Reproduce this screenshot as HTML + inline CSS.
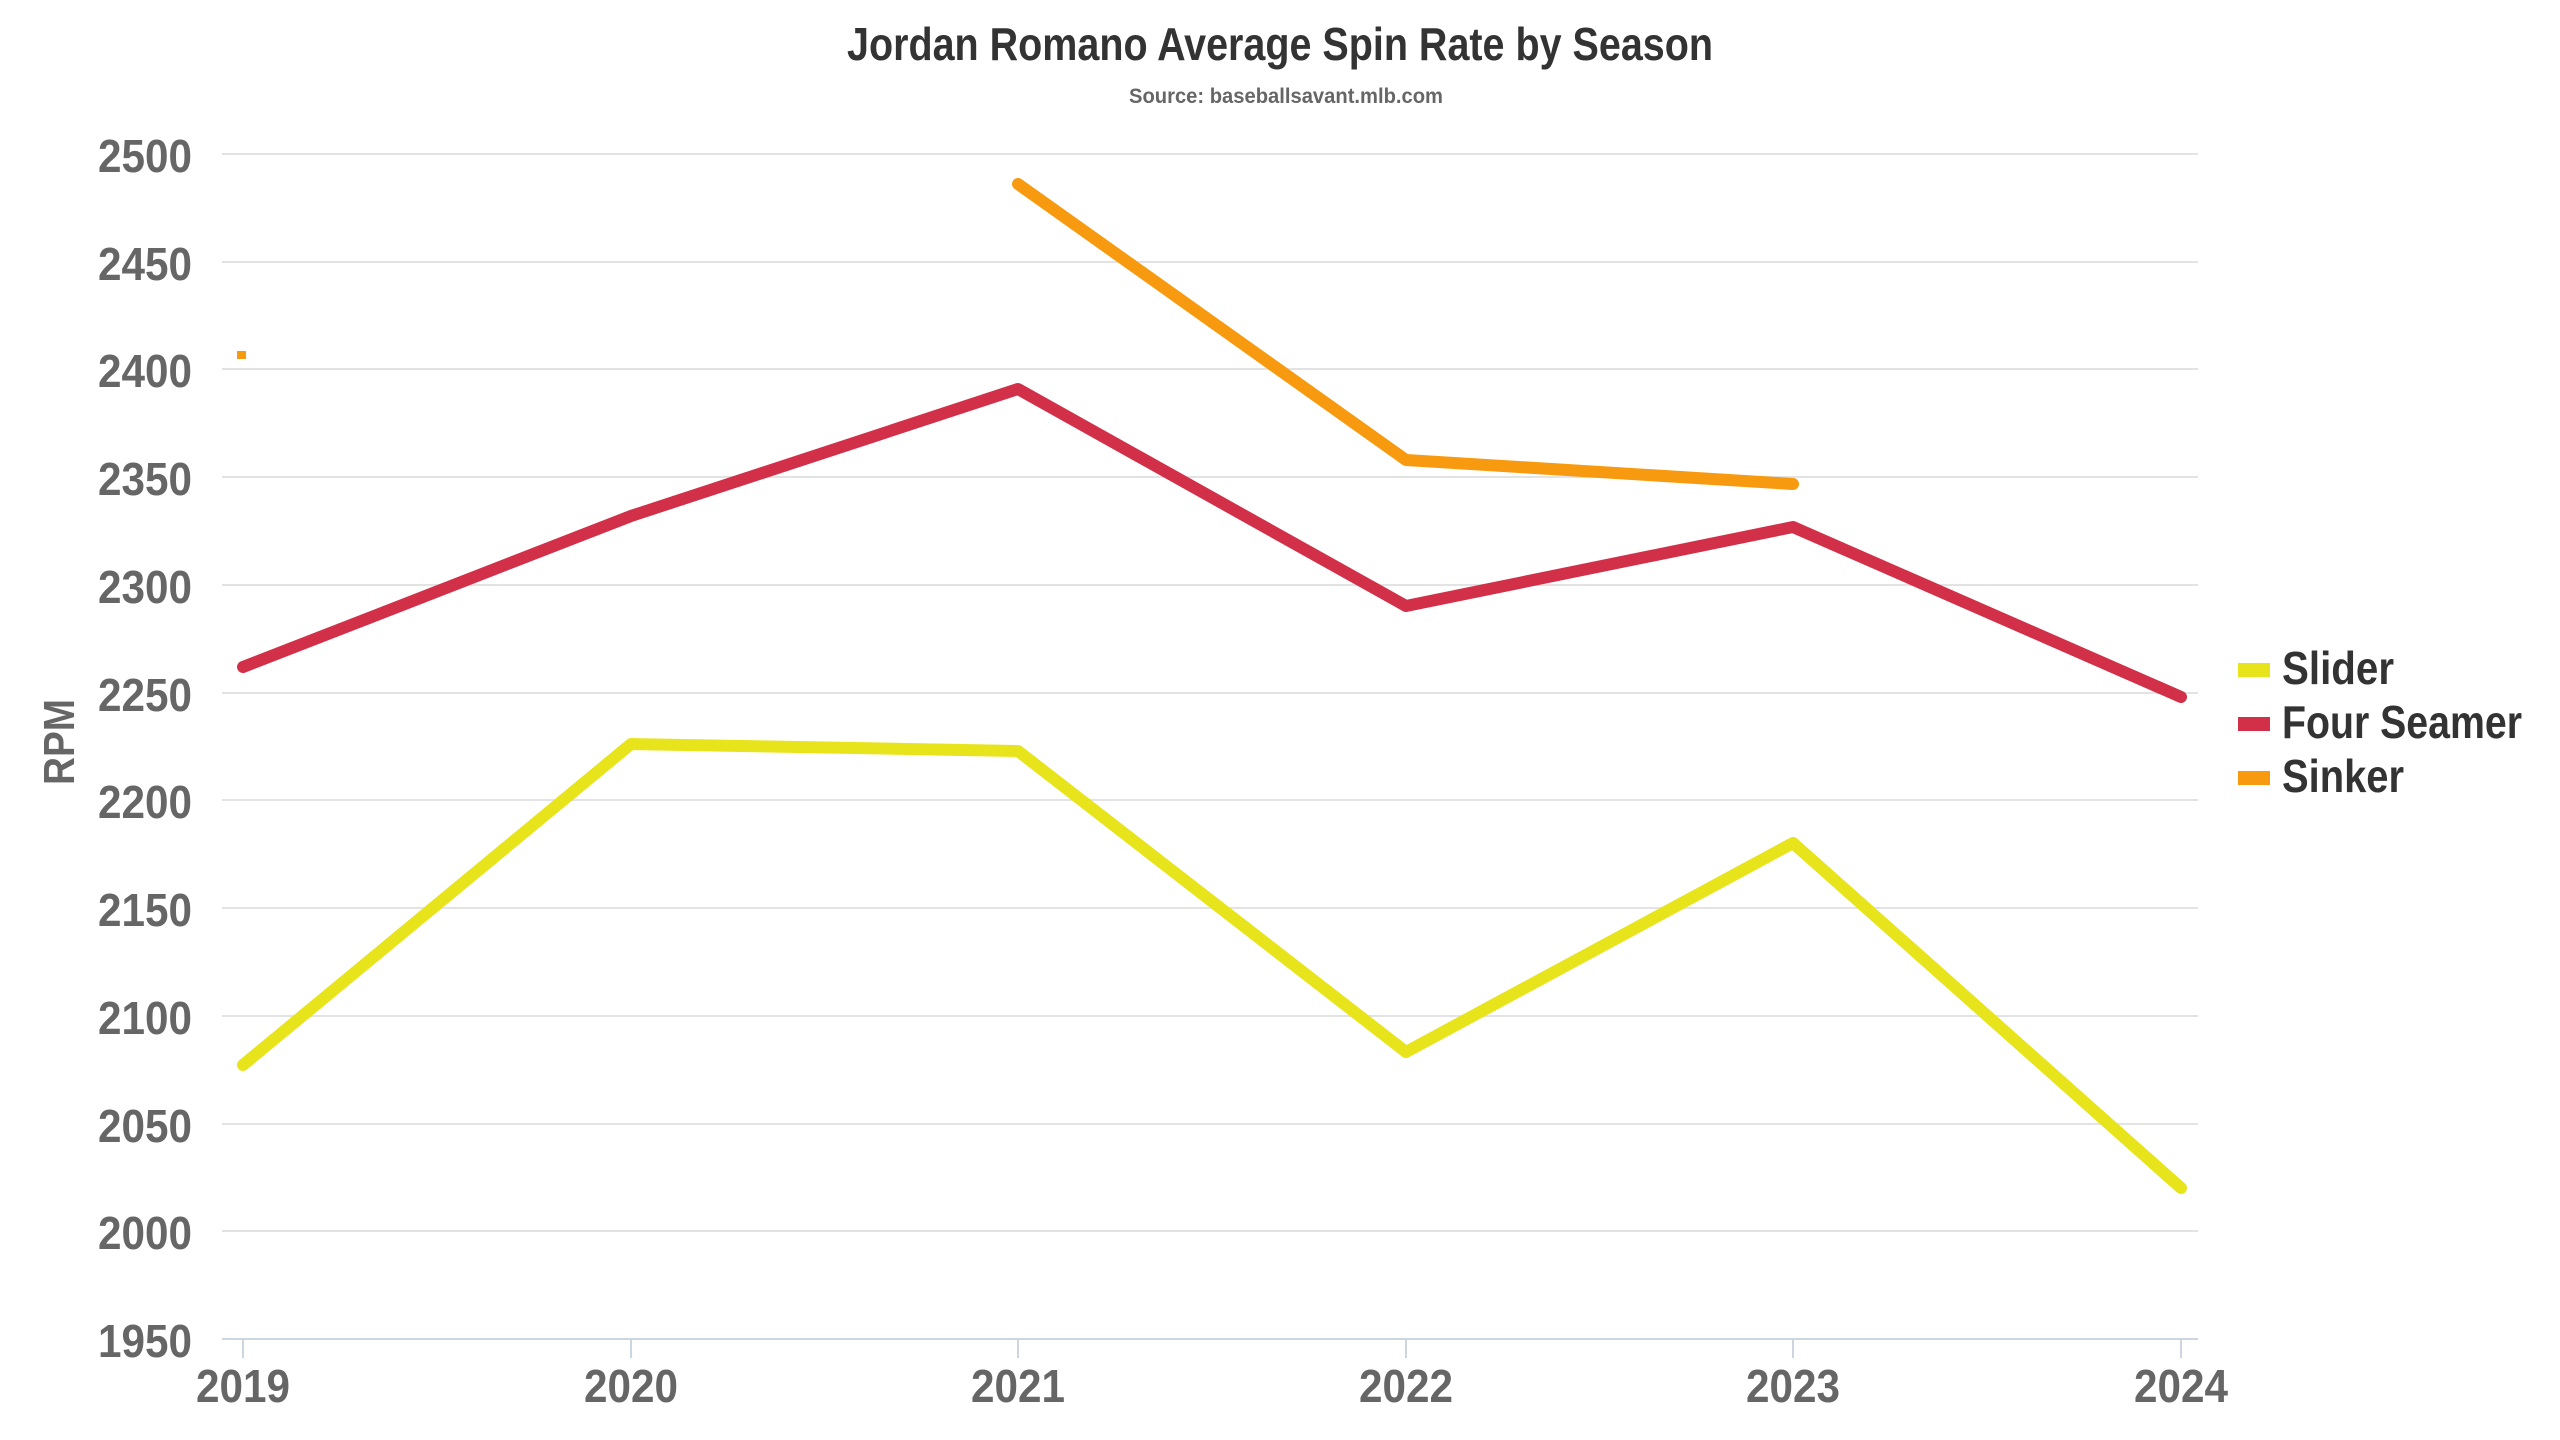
<!DOCTYPE html>
<html><head><meta charset="utf-8"><style>
html,body{margin:0;padding:0;background:#fff;width:2560px;height:1440px;overflow:hidden}
svg text{font-family:"Liberation Sans",sans-serif;font-weight:bold}
</style></head><body>
<svg width="2560" height="1440" viewBox="0 0 2560 1440" xmlns="http://www.w3.org/2000/svg">
<text x="1280" y="60" text-anchor="middle" font-size="46" fill="#333" textLength="866" lengthAdjust="spacingAndGlyphs">Jordan Romano Average Spin Rate by Season</text>
<text x="1286" y="103" text-anchor="middle" font-size="21" fill="#666" textLength="314" lengthAdjust="spacingAndGlyphs">Source: baseballsavant.mlb.com</text>
<g stroke="#e3e3e3" stroke-width="2">
<line x1="222" x2="2198" y1="154" y2="154"/><line x1="222" x2="2198" y1="262" y2="262"/><line x1="222" x2="2198" y1="369" y2="369"/><line x1="222" x2="2198" y1="477" y2="477"/><line x1="222" x2="2198" y1="585" y2="585"/><line x1="222" x2="2198" y1="693" y2="693"/><line x1="222" x2="2198" y1="800" y2="800"/><line x1="222" x2="2198" y1="908" y2="908"/><line x1="222" x2="2198" y1="1016" y2="1016"/><line x1="222" x2="2198" y1="1124" y2="1124"/><line x1="222" x2="2198" y1="1231" y2="1231"/>
</g>
<line x1="222" x2="2198" y1="1339" y2="1339" stroke="#ccd6e0" stroke-width="2"/>
<g stroke="#ccd6e0" stroke-width="2">
<line x1="243" x2="243" y1="1339" y2="1358"/><line x1="631" x2="631" y1="1339" y2="1358"/><line x1="1018" x2="1018" y1="1339" y2="1358"/><line x1="1406" x2="1406" y1="1339" y2="1358"/><line x1="1793" x2="1793" y1="1339" y2="1358"/><line x1="2181" x2="2181" y1="1339" y2="1358"/>
</g>
<g font-size="46" fill="#666" text-anchor="end">
<text x="192" y="172" textLength="94" lengthAdjust="spacingAndGlyphs">2500</text>
<text x="192" y="280" textLength="94" lengthAdjust="spacingAndGlyphs">2450</text>
<text x="192" y="387" textLength="94" lengthAdjust="spacingAndGlyphs">2400</text>
<text x="192" y="495" textLength="94" lengthAdjust="spacingAndGlyphs">2350</text>
<text x="192" y="603" textLength="94" lengthAdjust="spacingAndGlyphs">2300</text>
<text x="192" y="711" textLength="94" lengthAdjust="spacingAndGlyphs">2250</text>
<text x="192" y="818" textLength="94" lengthAdjust="spacingAndGlyphs">2200</text>
<text x="192" y="926" textLength="94" lengthAdjust="spacingAndGlyphs">2150</text>
<text x="192" y="1034" textLength="94" lengthAdjust="spacingAndGlyphs">2100</text>
<text x="192" y="1142" textLength="94" lengthAdjust="spacingAndGlyphs">2050</text>
<text x="192" y="1249" textLength="94" lengthAdjust="spacingAndGlyphs">2000</text>
<text x="192" y="1357" textLength="94" lengthAdjust="spacingAndGlyphs">1950</text>
</g>
<g font-size="46" fill="#666" text-anchor="middle">
<text x="243" y="1402" textLength="94" lengthAdjust="spacingAndGlyphs">2019</text>
<text x="631" y="1402" textLength="94" lengthAdjust="spacingAndGlyphs">2020</text>
<text x="1018" y="1402" textLength="94" lengthAdjust="spacingAndGlyphs">2021</text>
<text x="1406" y="1402" textLength="94" lengthAdjust="spacingAndGlyphs">2022</text>
<text x="1793" y="1402" textLength="94" lengthAdjust="spacingAndGlyphs">2023</text>
<text x="2181" y="1402" textLength="94" lengthAdjust="spacingAndGlyphs">2024</text>
</g>
<text transform="translate(74,742) rotate(-90)" text-anchor="middle" font-size="44" fill="#666" textLength="86" lengthAdjust="spacingAndGlyphs">RPM</text>
<g fill="none" stroke-width="12" stroke-linecap="round" stroke-linejoin="round">
<polyline stroke="#e8e41c" points="243,1065 631,744 1018,751 1406,1052 1793,843 2181,1188"/>
<polyline stroke="#d22f48" points="243,667 631,516 1018,389 1406,606 1793,527 2181,697"/>
<polyline stroke="#f79a0f" points="1018,184 1406,460 1793,484"/>
</g>
<rect x="237" y="351" width="9" height="8" fill="#f79a0f"/>
<rect x="2238" y="663" width="32" height="14" fill="#e8e41c"/>
<rect x="2238" y="717" width="32" height="14" fill="#d22f48"/>
<rect x="2238" y="771" width="32" height="14" fill="#f79a0f"/>
<g font-size="46" fill="#333">
<text x="2282" y="684" textLength="112" lengthAdjust="spacingAndGlyphs">Slider</text>
<text x="2282" y="738" textLength="240" lengthAdjust="spacingAndGlyphs">Four Seamer</text>
<text x="2282" y="792" textLength="122" lengthAdjust="spacingAndGlyphs">Sinker</text>
</g>
</svg>
</body></html>
